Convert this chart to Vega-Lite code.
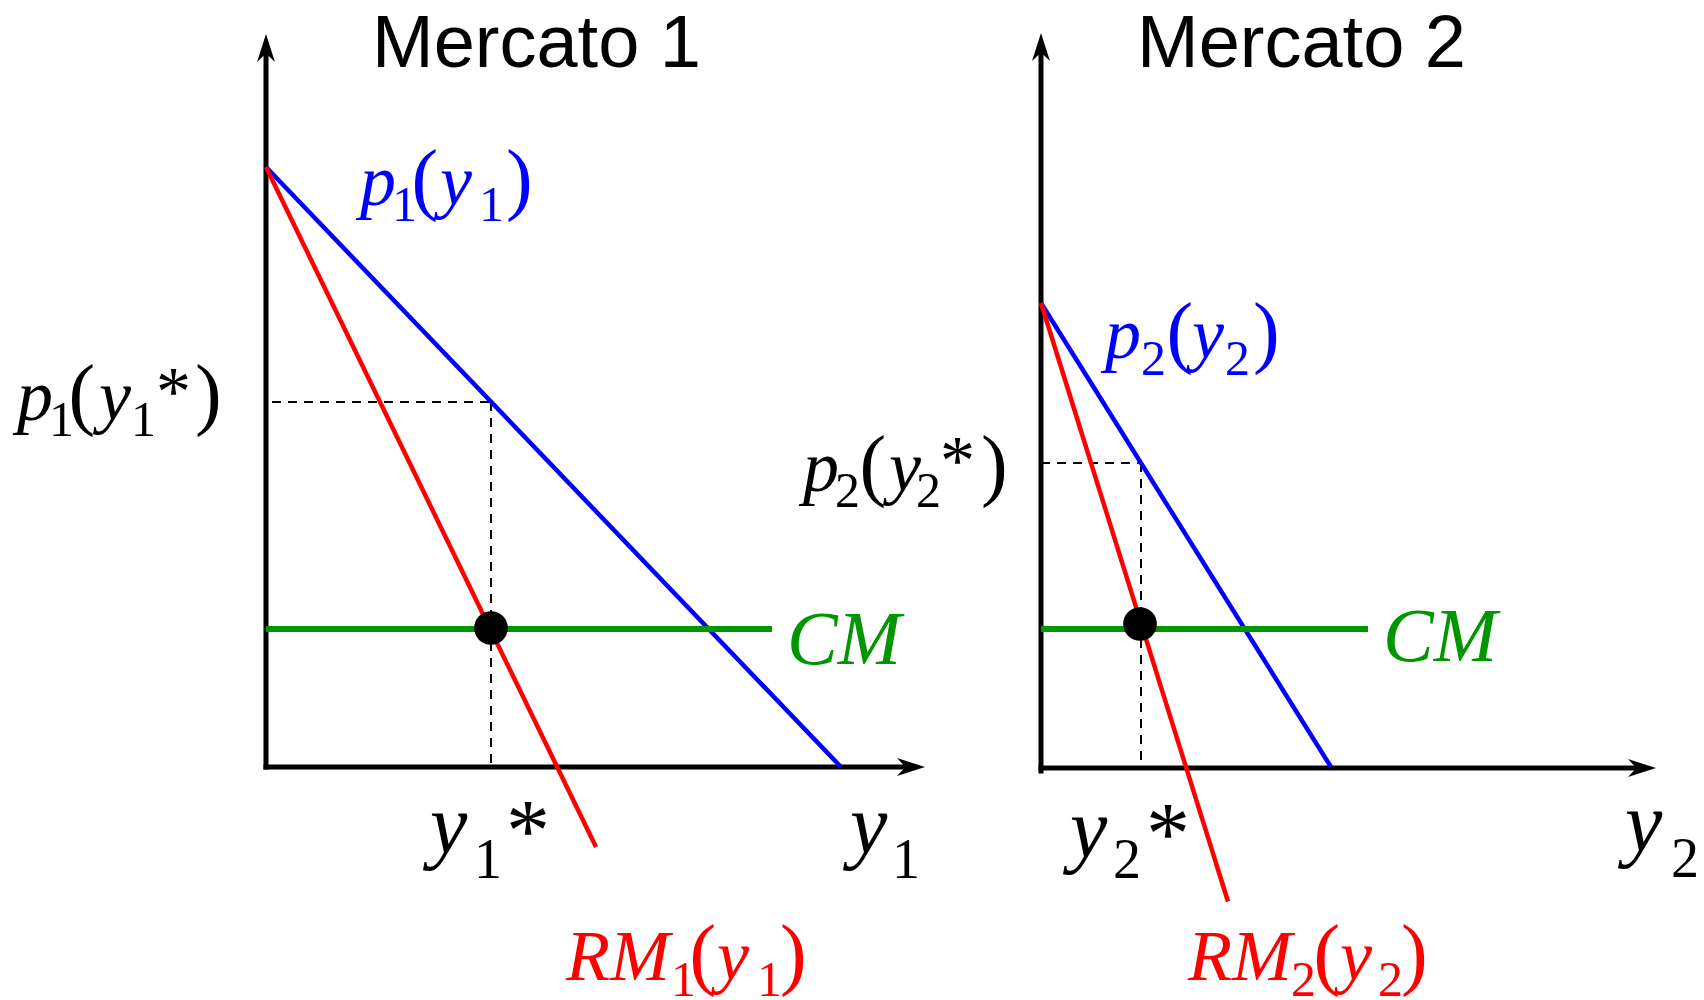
{
  "$schema": "https://vega.github.io/schema/vega-lite/v6.json",
  "width": 1704,
  "height": 1000,
  "autosize": {"type": "none"},
  "padding": 0,
  "background": "white",
  "config": {"view": {"stroke": null}},
  "datasets": {
    "segments": [
      {"panel": 1, "kind": "axis", "x": 0, "y": 0, "x2": 0, "y2": 14.3},
      {"panel": 1, "kind": "axis", "x": 0, "y": 0, "x2": 12.8, "y2": 0},
      {"panel": 1, "kind": "guide", "x": 0.12, "y": 7.3, "x2": 4.5, "y2": 7.3},
      {"panel": 1, "kind": "guide", "x": 4.5, "y": 7.3, "x2": 4.5, "y2": 0},
      {"panel": 1, "kind": "demand", "x": 0, "y": 12, "x2": 11.5, "y2": 0},
      {"panel": 1, "kind": "mr", "x": 0, "y": 12, "x2": 6.6, "y2": -1.6},
      {"panel": 1, "kind": "mc", "x": 0, "y": 2.76, "x2": 10.12, "y2": 2.76},
      {"panel": 2, "kind": "axis", "x": 0, "y": -0.08, "x2": 0, "y2": 14.3},
      {"panel": 2, "kind": "axis", "x": 0, "y": -0.02, "x2": 11.9, "y2": -0.02},
      {"panel": 2, "kind": "guide", "x": 0, "y": 6.08, "x2": 2.0, "y2": 6.08},
      {"panel": 2, "kind": "guide", "x": 2.0, "y": 6.08, "x2": 2.0, "y2": 0},
      {"panel": 2, "kind": "demand", "x": 0, "y": 9.28, "x2": 5.8, "y2": 0},
      {"panel": 2, "kind": "mr", "x": 0, "y": 9.28, "x2": 3.74, "y2": -2.69},
      {"panel": 2, "kind": "mc", "x": 0, "y": 2.76, "x2": 6.54, "y2": 2.76}
    ],
    "arrows": [
      {"panel": 1, "dir": "up", "x": 0, "y": 14.66},
      {"panel": 1, "dir": "right", "x": 13.18, "y": 0},
      {"panel": 2, "dir": "up", "x": 0, "y": 14.68},
      {"panel": 2, "dir": "right", "x": 12.3, "y": -0.02}
    ],
    "dots": [
      {"panel": 1, "x": 4.5, "y": 2.78},
      {"panel": 2, "x": 1.98, "y": 2.86}
    ],
    "glyphs": [
      {"panel": 1, "kind": "black", "role": "main", "text": "p", "x": -4.98, "y": 6.94},
      {"panel": 1, "kind": "black", "role": "sub", "text": "1", "x": -4.34, "y": 6.62},
      {"panel": 1, "kind": "black", "role": "paren", "text": "(", "x": -3.95, "y": 6.94},
      {"panel": 1, "kind": "black", "role": "main", "text": "y", "x": -3.34, "y": 6.94},
      {"panel": 1, "kind": "black", "role": "sub", "text": "1", "x": -2.70, "y": 6.62},
      {"panel": 1, "kind": "black", "role": "star", "text": "*", "x": -2.2, "y": 7.04},
      {"panel": 1, "kind": "black", "role": "paren", "text": ")", "x": -1.42, "y": 6.94},
      {"panel": 1, "kind": "demand", "role": "main", "text": "p", "x": 1.88, "y": 11.24},
      {"panel": 1, "kind": "demand", "role": "sub", "text": "1", "x": 2.52, "y": 10.92},
      {"panel": 1, "kind": "demand", "role": "paren", "text": "(", "x": 2.91, "y": 11.24},
      {"panel": 1, "kind": "demand", "role": "main", "text": "y", "x": 3.48, "y": 11.24},
      {"panel": 1, "kind": "demand", "role": "sub", "text": "1", "x": 4.26, "y": 10.92},
      {"panel": 1, "kind": "demand", "role": "paren", "text": ")", "x": 4.80, "y": 11.24},
      {"panel": 1, "kind": "black", "role": "axis", "text": "y", "x": 3.28, "y": -1.72},
      {"panel": 1, "kind": "black", "role": "axissub", "text": "1", "x": 4.16, "y": -2.22},
      {"panel": 1, "kind": "black", "role": "axisstar", "text": "*", "x": 4.8, "y": -1.86},
      {"panel": 1, "kind": "mr", "role": "main", "text": "RM", "x": 6.0, "y": -4.26},
      {"panel": 1, "kind": "mr", "role": "sub", "text": "1", "x": 8.10, "y": -4.58},
      {"panel": 1, "kind": "mr", "role": "paren", "text": "(", "x": 8.47, "y": -4.26},
      {"panel": 1, "kind": "mr", "role": "main", "text": "y", "x": 9.02, "y": -4.26},
      {"panel": 1, "kind": "mr", "role": "sub", "text": "1", "x": 9.82, "y": -4.58},
      {"panel": 1, "kind": "mr", "role": "paren", "text": ")", "x": 10.28, "y": -4.26},
      {"panel": 1, "kind": "black", "role": "axis", "text": "y", "x": 11.68, "y": -1.72},
      {"panel": 1, "kind": "black", "role": "axissub", "text": "1", "x": 12.52, "y": -2.22},
      {"panel": 1, "kind": "mc", "role": "cm", "text": "CM", "x": 10.42, "y": 2.06},
      {"panel": 2, "kind": "demand", "role": "main", "text": "p", "x": 1.28, "y": 8.18},
      {"panel": 2, "kind": "demand", "role": "sub", "text": "2", "x": 2.0, "y": 7.84},
      {"panel": 2, "kind": "demand", "role": "paren", "text": "(", "x": 2.51, "y": 8.18},
      {"panel": 2, "kind": "demand", "role": "main", "text": "y", "x": 3.02, "y": 8.18},
      {"panel": 2, "kind": "demand", "role": "sub", "text": "2", "x": 3.68, "y": 7.84},
      {"panel": 2, "kind": "demand", "role": "paren", "text": ")", "x": 4.24, "y": 8.18},
      {"panel": 2, "kind": "black", "role": "main", "text": "p", "x": -4.76, "y": 5.52},
      {"panel": 2, "kind": "black", "role": "sub", "text": "2", "x": -4.12, "y": 5.2},
      {"panel": 2, "kind": "black", "role": "paren", "text": "(", "x": -3.63, "y": 5.52},
      {"panel": 2, "kind": "black", "role": "main", "text": "y", "x": -3.04, "y": 5.52},
      {"panel": 2, "kind": "black", "role": "sub", "text": "2", "x": -2.50, "y": 5.2},
      {"panel": 2, "kind": "black", "role": "star", "text": "*", "x": -2.02, "y": 5.66},
      {"panel": 2, "kind": "black", "role": "paren", "text": ")", "x": -1.20, "y": 5.52},
      {"panel": 2, "kind": "black", "role": "axis", "text": "y", "x": 0.58, "y": -1.80},
      {"panel": 2, "kind": "black", "role": "axissub", "text": "2", "x": 1.44, "y": -2.22},
      {"panel": 2, "kind": "black", "role": "axisstar", "text": "*", "x": 2.1, "y": -1.92},
      {"panel": 2, "kind": "mr", "role": "main", "text": "RM", "x": 2.94, "y": -4.26},
      {"panel": 2, "kind": "mr", "role": "sub", "text": "2", "x": 5.0, "y": -4.58},
      {"panel": 2, "kind": "mr", "role": "paren", "text": "(", "x": 5.45, "y": -4.26},
      {"panel": 2, "kind": "mr", "role": "main", "text": "y", "x": 5.98, "y": -4.26},
      {"panel": 2, "kind": "mr", "role": "sub", "text": "2", "x": 6.74, "y": -4.58},
      {"panel": 2, "kind": "mr", "role": "paren", "text": ")", "x": 7.20, "y": -4.26},
      {"panel": 2, "kind": "black", "role": "axis", "text": "y", "x": 11.68, "y": -1.68},
      {"panel": 2, "kind": "black", "role": "axissub", "text": "2", "x": 12.6, "y": -2.2},
      {"panel": 2, "kind": "mc", "role": "cm", "text": "CM", "x": 6.84, "y": 2.12}
    ],
    "titles": [
      {"panel": 1, "text": "Mercato 1", "x": 2.12, "y": 14.0},
      {"panel": 2, "text": "Mercato 2", "x": 1.92, "y": 14.0}
    ]
  },
  "resolve": {"scale": {"x": "independent"}},
  "layer": [
    {
      "encoding": {
        "x": {"field": "x", "type": "quantitative", "scale": {"domain": [-5.32, 28.76], "nice": false, "zero": false}, "axis": null},
        "y": {"field": "y", "type": "quantitative", "scale": {"domain": [-4.66, 15.34], "nice": false, "zero": false}, "axis": null}
      },
      "layer": [
        {
          "data": {"name": "segments"},
          "transform": [{"filter": "datum.panel == 1 && datum.kind == 'axis'"}],
          "mark": {"type": "rule", "color": "black", "strokeWidth": 5, "strokeCap": "square"},
          "encoding": {"x2": {"field": "x2"}, "y2": {"field": "y2"}}
        },
        {
          "data": {"name": "segments"},
          "transform": [{"filter": "datum.panel == 1 && datum.kind == 'guide'"}],
          "mark": {"type": "rule", "color": "black", "strokeWidth": 2, "strokeDash": [9, 7]},
          "encoding": {"x2": {"field": "x2"}, "y2": {"field": "y2"}}
        },
        {
          "data": {"name": "segments"},
          "transform": [{"filter": "datum.panel == 1 && (datum.kind == 'demand' || datum.kind == 'mr')"}],
          "mark": {"type": "rule", "strokeWidth": 4.5},
          "encoding": {
            "x2": {"field": "x2"}, "y2": {"field": "y2"},
            "color": {"field": "kind", "type": "nominal", "scale": {"domain": ["demand", "mr", "mc", "black"], "range": ["#0000ff", "#ff0000", "#009600", "#000000"]}, "legend": null}
          }
        },
        {
          "data": {"name": "segments"},
          "transform": [{"filter": "datum.panel == 1 && datum.kind == 'mc'"}],
          "mark": {"type": "rule", "strokeWidth": 6},
          "encoding": {
            "x2": {"field": "x2"}, "y2": {"field": "y2"},
            "color": {"field": "kind", "type": "nominal", "scale": {"domain": ["demand", "mr", "mc", "black"], "range": ["#0000ff", "#ff0000", "#009600", "#000000"]}, "legend": null}
          }
        },
        {
          "data": {"name": "arrows"},
          "transform": [{"filter": "datum.panel == 1"}],
          "mark": {"type": "point", "filled": true, "color": "black", "opacity": 1, "size": 784, "strokeWidth": 0},
          "encoding": {
            "shape": {"field": "dir", "type": "nominal", "scale": {"domain": ["up", "right"], "range": ["M0,0L0.64,2L0,1.4L-0.64,2Z", "M0,0L-2,-0.64L-1.4,0L-2,0.64Z"]}, "legend": null}
          }
        },
        {
          "data": {"name": "dots"},
          "transform": [{"filter": "datum.panel == 1"}],
          "mark": {"type": "point", "shape": "circle", "filled": true, "color": "black", "opacity": 1, "size": 1134}
        },
        {
          "data": {"name": "glyphs"},
          "transform": [{"filter": "datum.panel == 1 && datum.role == 'main'"}],
          "mark": {"type": "text", "font": "Liberation Serif", "fontStyle": "italic", "fontSize": 72, "align": "left", "baseline": "alphabetic"},
          "encoding": {"text": {"field": "text"}, "color": {"field": "kind", "type": "nominal", "scale": {"domain": ["demand", "mr", "mc", "black"], "range": ["#0000ff", "#ff0000", "#009600", "#000000"]}, "legend": null}}
        },
        {
          "data": {"name": "glyphs"},
          "transform": [{"filter": "datum.panel == 1 && datum.role == 'axis'"}],
          "mark": {"type": "text", "font": "Liberation Serif", "fontStyle": "italic", "fontSize": 84, "align": "left", "baseline": "alphabetic"},
          "encoding": {"text": {"field": "text"}, "color": {"field": "kind", "type": "nominal", "scale": {"domain": ["demand", "mr", "mc", "black"], "range": ["#0000ff", "#ff0000", "#009600", "#000000"]}, "legend": null}}
        },
        {
          "data": {"name": "glyphs"},
          "transform": [{"filter": "datum.panel == 1 && datum.role == 'cm'"}],
          "mark": {"type": "text", "font": "Liberation Serif", "fontStyle": "italic", "fontSize": 76, "align": "left", "baseline": "alphabetic"},
          "encoding": {"text": {"field": "text"}, "color": {"field": "kind", "type": "nominal", "scale": {"domain": ["demand", "mr", "mc", "black"], "range": ["#0000ff", "#ff0000", "#009600", "#000000"]}, "legend": null}}
        },
        {
          "data": {"name": "glyphs"},
          "transform": [{"filter": "datum.panel == 1 && datum.role == 'paren'"}],
          "mark": {"type": "text", "font": "Liberation Serif", "fontSize": 80, "align": "left", "baseline": "alphabetic"},
          "encoding": {"text": {"field": "text"}, "color": {"field": "kind", "type": "nominal", "scale": {"domain": ["demand", "mr", "mc", "black"], "range": ["#0000ff", "#ff0000", "#009600", "#000000"]}, "legend": null}}
        },
        {
          "data": {"name": "glyphs"},
          "transform": [{"filter": "datum.panel == 1 && datum.role == 'sub'"}],
          "mark": {"type": "text", "font": "Liberation Serif", "fontSize": 50, "align": "left", "baseline": "alphabetic"},
          "encoding": {"text": {"field": "text"}, "color": {"field": "kind", "type": "nominal", "scale": {"domain": ["demand", "mr", "mc", "black"], "range": ["#0000ff", "#ff0000", "#009600", "#000000"]}, "legend": null}}
        },
        {
          "data": {"name": "glyphs"},
          "transform": [{"filter": "datum.panel == 1 && datum.role == 'axissub'"}],
          "mark": {"type": "text", "font": "Liberation Serif", "fontSize": 56, "align": "left", "baseline": "alphabetic"},
          "encoding": {"text": {"field": "text"}, "color": {"field": "kind", "type": "nominal", "scale": {"domain": ["demand", "mr", "mc", "black"], "range": ["#0000ff", "#ff0000", "#009600", "#000000"]}, "legend": null}}
        },
        {
          "data": {"name": "glyphs"},
          "transform": [{"filter": "datum.panel == 1 && datum.role == 'star'"}],
          "mark": {"type": "text", "font": "Liberation Serif", "fontSize": 70, "align": "left", "baseline": "alphabetic"},
          "encoding": {"text": {"field": "text"}, "color": {"field": "kind", "type": "nominal", "scale": {"domain": ["demand", "mr", "mc", "black"], "range": ["#0000ff", "#ff0000", "#009600", "#000000"]}, "legend": null}}
        },
        {
          "data": {"name": "glyphs"},
          "transform": [{"filter": "datum.panel == 1 && datum.role == 'axisstar'"}],
          "mark": {"type": "text", "font": "Liberation Serif", "fontSize": 88, "align": "left", "baseline": "alphabetic"},
          "encoding": {"text": {"field": "text"}, "color": {"field": "kind", "type": "nominal", "scale": {"domain": ["demand", "mr", "mc", "black"], "range": ["#0000ff", "#ff0000", "#009600", "#000000"]}, "legend": null}}
        },
        {
          "data": {"name": "titles"},
          "transform": [{"filter": "datum.panel == 1"}],
          "mark": {"type": "text", "font": "Liberation Sans", "fontSize": 74, "align": "left", "baseline": "alphabetic", "color": "black"},
          "encoding": {"text": {"field": "text"}}
        }
      ]
    },
    {
      "encoding": {
        "x": {"field": "x", "type": "quantitative", "scale": {"domain": [-20.82, 13.26], "nice": false, "zero": false}, "axis": null},
        "y": {"field": "y", "type": "quantitative", "scale": {"domain": [-4.66, 15.34], "nice": false, "zero": false}, "axis": null}
      },
      "layer": [
        {
          "data": {"name": "segments"},
          "transform": [{"filter": "datum.panel == 2 && datum.kind == 'axis'"}],
          "mark": {"type": "rule", "color": "black", "strokeWidth": 5, "strokeCap": "square"},
          "encoding": {"x2": {"field": "x2"}, "y2": {"field": "y2"}}
        },
        {
          "data": {"name": "segments"},
          "transform": [{"filter": "datum.panel == 2 && datum.kind == 'guide'"}],
          "mark": {"type": "rule", "color": "black", "strokeWidth": 2, "strokeDash": [9, 7]},
          "encoding": {"x2": {"field": "x2"}, "y2": {"field": "y2"}}
        },
        {
          "data": {"name": "segments"},
          "transform": [{"filter": "datum.panel == 2 && (datum.kind == 'demand' || datum.kind == 'mr')"}],
          "mark": {"type": "rule", "strokeWidth": 4.5},
          "encoding": {
            "x2": {"field": "x2"}, "y2": {"field": "y2"},
            "color": {"field": "kind", "type": "nominal", "scale": {"domain": ["demand", "mr", "mc", "black"], "range": ["#0000ff", "#ff0000", "#009600", "#000000"]}, "legend": null}
          }
        },
        {
          "data": {"name": "segments"},
          "transform": [{"filter": "datum.panel == 2 && datum.kind == 'mc'"}],
          "mark": {"type": "rule", "strokeWidth": 6},
          "encoding": {
            "x2": {"field": "x2"}, "y2": {"field": "y2"},
            "color": {"field": "kind", "type": "nominal", "scale": {"domain": ["demand", "mr", "mc", "black"], "range": ["#0000ff", "#ff0000", "#009600", "#000000"]}, "legend": null}
          }
        },
        {
          "data": {"name": "arrows"},
          "transform": [{"filter": "datum.panel == 2"}],
          "mark": {"type": "point", "filled": true, "color": "black", "opacity": 1, "size": 784, "strokeWidth": 0},
          "encoding": {
            "shape": {"field": "dir", "type": "nominal", "scale": {"domain": ["up", "right"], "range": ["M0,0L0.64,2L0,1.4L-0.64,2Z", "M0,0L-2,-0.64L-1.4,0L-2,0.64Z"]}, "legend": null}
          }
        },
        {
          "data": {"name": "dots"},
          "transform": [{"filter": "datum.panel == 2"}],
          "mark": {"type": "point", "shape": "circle", "filled": true, "color": "black", "opacity": 1, "size": 1134}
        },
        {
          "data": {"name": "glyphs"},
          "transform": [{"filter": "datum.panel == 2 && datum.role == 'main'"}],
          "mark": {"type": "text", "font": "Liberation Serif", "fontStyle": "italic", "fontSize": 72, "align": "left", "baseline": "alphabetic"},
          "encoding": {"text": {"field": "text"}, "color": {"field": "kind", "type": "nominal", "scale": {"domain": ["demand", "mr", "mc", "black"], "range": ["#0000ff", "#ff0000", "#009600", "#000000"]}, "legend": null}}
        },
        {
          "data": {"name": "glyphs"},
          "transform": [{"filter": "datum.panel == 2 && datum.role == 'axis'"}],
          "mark": {"type": "text", "font": "Liberation Serif", "fontStyle": "italic", "fontSize": 84, "align": "left", "baseline": "alphabetic"},
          "encoding": {"text": {"field": "text"}, "color": {"field": "kind", "type": "nominal", "scale": {"domain": ["demand", "mr", "mc", "black"], "range": ["#0000ff", "#ff0000", "#009600", "#000000"]}, "legend": null}}
        },
        {
          "data": {"name": "glyphs"},
          "transform": [{"filter": "datum.panel == 2 && datum.role == 'cm'"}],
          "mark": {"type": "text", "font": "Liberation Serif", "fontStyle": "italic", "fontSize": 76, "align": "left", "baseline": "alphabetic"},
          "encoding": {"text": {"field": "text"}, "color": {"field": "kind", "type": "nominal", "scale": {"domain": ["demand", "mr", "mc", "black"], "range": ["#0000ff", "#ff0000", "#009600", "#000000"]}, "legend": null}}
        },
        {
          "data": {"name": "glyphs"},
          "transform": [{"filter": "datum.panel == 2 && datum.role == 'paren'"}],
          "mark": {"type": "text", "font": "Liberation Serif", "fontSize": 80, "align": "left", "baseline": "alphabetic"},
          "encoding": {"text": {"field": "text"}, "color": {"field": "kind", "type": "nominal", "scale": {"domain": ["demand", "mr", "mc", "black"], "range": ["#0000ff", "#ff0000", "#009600", "#000000"]}, "legend": null}}
        },
        {
          "data": {"name": "glyphs"},
          "transform": [{"filter": "datum.panel == 2 && datum.role == 'sub'"}],
          "mark": {"type": "text", "font": "Liberation Serif", "fontSize": 50, "align": "left", "baseline": "alphabetic"},
          "encoding": {"text": {"field": "text"}, "color": {"field": "kind", "type": "nominal", "scale": {"domain": ["demand", "mr", "mc", "black"], "range": ["#0000ff", "#ff0000", "#009600", "#000000"]}, "legend": null}}
        },
        {
          "data": {"name": "glyphs"},
          "transform": [{"filter": "datum.panel == 2 && datum.role == 'axissub'"}],
          "mark": {"type": "text", "font": "Liberation Serif", "fontSize": 56, "align": "left", "baseline": "alphabetic"},
          "encoding": {"text": {"field": "text"}, "color": {"field": "kind", "type": "nominal", "scale": {"domain": ["demand", "mr", "mc", "black"], "range": ["#0000ff", "#ff0000", "#009600", "#000000"]}, "legend": null}}
        },
        {
          "data": {"name": "glyphs"},
          "transform": [{"filter": "datum.panel == 2 && datum.role == 'star'"}],
          "mark": {"type": "text", "font": "Liberation Serif", "fontSize": 70, "align": "left", "baseline": "alphabetic"},
          "encoding": {"text": {"field": "text"}, "color": {"field": "kind", "type": "nominal", "scale": {"domain": ["demand", "mr", "mc", "black"], "range": ["#0000ff", "#ff0000", "#009600", "#000000"]}, "legend": null}}
        },
        {
          "data": {"name": "glyphs"},
          "transform": [{"filter": "datum.panel == 2 && datum.role == 'axisstar'"}],
          "mark": {"type": "text", "font": "Liberation Serif", "fontSize": 88, "align": "left", "baseline": "alphabetic"},
          "encoding": {"text": {"field": "text"}, "color": {"field": "kind", "type": "nominal", "scale": {"domain": ["demand", "mr", "mc", "black"], "range": ["#0000ff", "#ff0000", "#009600", "#000000"]}, "legend": null}}
        },
        {
          "data": {"name": "titles"},
          "transform": [{"filter": "datum.panel == 2"}],
          "mark": {"type": "text", "font": "Liberation Sans", "fontSize": 74, "align": "left", "baseline": "alphabetic", "color": "black"},
          "encoding": {"text": {"field": "text"}}
        }
      ]
    }
  ]
}
